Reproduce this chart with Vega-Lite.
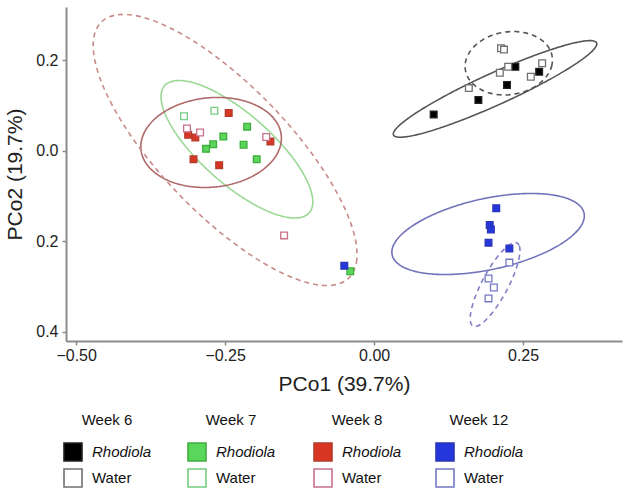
{
  "$schema": "https://vega.github.io/schema/vega-lite/v6.json",
  "width": 556,
  "height": 334,
  "autosize": {"type": "none"},
  "padding": {"left": 66, "top": 7, "right": 7, "bottom": 149},
  "background": "white",
  "config": {
    "view": {"stroke": null},
    "font": "Liberation Sans",
    "axis": {
      "grid": false,
      "domainColor": "#8c8c8c",
      "domainWidth": 2,
      "tickColor": "#8c8c8c",
      "tickWidth": 1.5,
      "tickSize": 4,
      "labelFontSize": 16,
      "labelColor": "#222222",
      "titleFontSize": 21,
      "titleFontWeight": "normal",
      "titleColor": "#222222"
    },
    "legend": {
      "titleFontSize": 15,
      "titleFontWeight": "normal",
      "titleColor": "#111111",
      "labelFontSize": 15,
      "labelColor": "#111111",
      "symbolSize": 324,
      "symbolStrokeWidth": 1.6,
      "labelOffset": 9,
      "rowPadding": 0,
      "titlePadding": 14,
      "titleAnchor": "middle",
      "symbolType": "square"
    }
  },
  "datasets": {
    "pts": [
      {"week": 6, "trt": "Rhodiola", "x": 0.237, "y": 0.185},
      {"week": 6, "trt": "Rhodiola", "x": 0.223, "y": 0.145},
      {"week": 6, "trt": "Rhodiola", "x": 0.175, "y": 0.112},
      {"week": 6, "trt": "Rhodiola", "x": 0.100, "y": 0.080},
      {"week": 6, "trt": "Rhodiola", "x": 0.277, "y": 0.174},
      {"week": 6, "trt": "Water", "x": 0.213, "y": 0.226},
      {"week": 6, "trt": "Water", "x": 0.218, "y": 0.223},
      {"week": 6, "trt": "Water", "x": 0.225, "y": 0.185},
      {"week": 6, "trt": "Water", "x": 0.211, "y": 0.172},
      {"week": 6, "trt": "Water", "x": 0.159, "y": 0.138},
      {"week": 6, "trt": "Water", "x": 0.263, "y": 0.163},
      {"week": 6, "trt": "Water", "x": 0.282, "y": 0.193},
      {"week": 7, "trt": "Rhodiola", "x": -0.213, "y": 0.053},
      {"week": 7, "trt": "Rhodiola", "x": -0.253, "y": 0.031},
      {"week": 7, "trt": "Rhodiola", "x": -0.270, "y": 0.014},
      {"week": 7, "trt": "Rhodiola", "x": -0.282, "y": 0.004},
      {"week": 7, "trt": "Rhodiola", "x": -0.219, "y": 0.013},
      {"week": 7, "trt": "Rhodiola", "x": -0.197, "y": -0.019},
      {"week": 7, "trt": "Rhodiola", "x": -0.040, "y": -0.266},
      {"week": 7, "trt": "Water", "x": -0.319, "y": 0.076},
      {"week": 7, "trt": "Water", "x": -0.268, "y": 0.088},
      {"week": 8, "trt": "Rhodiola", "x": -0.244, "y": 0.083},
      {"week": 8, "trt": "Rhodiola", "x": -0.312, "y": 0.035},
      {"week": 8, "trt": "Rhodiola", "x": -0.300, "y": 0.029},
      {"week": 8, "trt": "Rhodiola", "x": -0.174, "y": 0.020},
      {"week": 8, "trt": "Rhodiola", "x": -0.303, "y": -0.019},
      {"week": 8, "trt": "Rhodiola", "x": -0.260, "y": -0.032},
      {"week": 8, "trt": "Water", "x": -0.314, "y": 0.049},
      {"week": 8, "trt": "Water", "x": -0.292, "y": 0.040},
      {"week": 8, "trt": "Water", "x": -0.181, "y": 0.030},
      {"week": 8, "trt": "Water", "x": -0.151, "y": -0.187},
      {"week": 12, "trt": "Rhodiola", "x": 0.205, "y": -0.127},
      {"week": 12, "trt": "Rhodiola", "x": 0.194, "y": -0.164},
      {"week": 12, "trt": "Rhodiola", "x": 0.196, "y": -0.174},
      {"week": 12, "trt": "Rhodiola", "x": 0.192, "y": -0.203},
      {"week": 12, "trt": "Rhodiola", "x": 0.227, "y": -0.216},
      {"week": 12, "trt": "Rhodiola", "x": -0.050, "y": -0.254},
      {"week": 12, "trt": "Water", "x": 0.192, "y": -0.282},
      {"week": 12, "trt": "Water", "x": 0.201, "y": -0.302},
      {"week": 12, "trt": "Water", "x": 0.192, "y": -0.326},
      {"week": 12, "trt": "Water", "x": 0.227, "y": -0.247}
    ],
    "ell": [
      {"e": "6R", "t": "R", "i": 0, "x": 0.3734, "y": 0.2379},
      {"e": "6R", "t": "R", "i": 1, "x": 0.3704, "y": 0.2261},
      {"e": "6R", "t": "R", "i": 2, "x": 0.3561, "y": 0.2083},
      {"e": "6R", "t": "R", "i": 3, "x": 0.3313, "y": 0.1855},
      {"e": "6R", "t": "R", "i": 4, "x": 0.2977, "y": 0.1594},
      {"e": "6R", "t": "R", "i": 5, "x": 0.2577, "y": 0.1316},
      {"e": "6R", "t": "R", "i": 6, "x": 0.2140, "y": 0.1042},
      {"e": "6R", "t": "R", "i": 7, "x": 0.1695, "y": 0.0790},
      {"e": "6R", "t": "R", "i": 8, "x": 0.1273, "y": 0.0577},
      {"e": "6R", "t": "R", "i": 9, "x": 0.0903, "y": 0.0417},
      {"e": "6R", "t": "R", "i": 10, "x": 0.0610, "y": 0.0322},
      {"e": "6R", "t": "R", "i": 11, "x": 0.0413, "y": 0.0297},
      {"e": "6R", "t": "R", "i": 12, "x": 0.0326, "y": 0.0345},
      {"e": "6R", "t": "R", "i": 13, "x": 0.0356, "y": 0.0463},
      {"e": "6R", "t": "R", "i": 14, "x": 0.0499, "y": 0.0641},
      {"e": "6R", "t": "R", "i": 15, "x": 0.0747, "y": 0.0869},
      {"e": "6R", "t": "R", "i": 16, "x": 0.1083, "y": 0.1130},
      {"e": "6R", "t": "R", "i": 17, "x": 0.1483, "y": 0.1408},
      {"e": "6R", "t": "R", "i": 18, "x": 0.1920, "y": 0.1682},
      {"e": "6R", "t": "R", "i": 19, "x": 0.2365, "y": 0.1934},
      {"e": "6R", "t": "R", "i": 20, "x": 0.2787, "y": 0.2147},
      {"e": "6R", "t": "R", "i": 21, "x": 0.3157, "y": 0.2307},
      {"e": "6R", "t": "R", "i": 22, "x": 0.3450, "y": 0.2402},
      {"e": "6R", "t": "R", "i": 23, "x": 0.3647, "y": 0.2427},
      {"e": "6W", "t": "W", "i": 0, "x": 0.2989, "y": 0.2072},
      {"e": "6W", "t": "W", "i": 1, "x": 0.2984, "y": 0.1890},
      {"e": "6W", "t": "W", "i": 2, "x": 0.2930, "y": 0.1710},
      {"e": "6W", "t": "W", "i": 3, "x": 0.2830, "y": 0.1546},
      {"e": "6W", "t": "W", "i": 4, "x": 0.2692, "y": 0.1407},
      {"e": "6W", "t": "W", "i": 5, "x": 0.2524, "y": 0.1304},
      {"e": "6W", "t": "W", "i": 6, "x": 0.2338, "y": 0.1244},
      {"e": "6W", "t": "W", "i": 7, "x": 0.2147, "y": 0.1230},
      {"e": "6W", "t": "W", "i": 8, "x": 0.1963, "y": 0.1264},
      {"e": "6W", "t": "W", "i": 9, "x": 0.1800, "y": 0.1343},
      {"e": "6W", "t": "W", "i": 10, "x": 0.1668, "y": 0.1462},
      {"e": "6W", "t": "W", "i": 11, "x": 0.1576, "y": 0.1613},
      {"e": "6W", "t": "W", "i": 12, "x": 0.1531, "y": 0.1786},
      {"e": "6W", "t": "W", "i": 13, "x": 0.1536, "y": 0.1968},
      {"e": "6W", "t": "W", "i": 14, "x": 0.1590, "y": 0.2148},
      {"e": "6W", "t": "W", "i": 15, "x": 0.1690, "y": 0.2312},
      {"e": "6W", "t": "W", "i": 16, "x": 0.1828, "y": 0.2451},
      {"e": "6W", "t": "W", "i": 17, "x": 0.1996, "y": 0.2554},
      {"e": "6W", "t": "W", "i": 18, "x": 0.2182, "y": 0.2614},
      {"e": "6W", "t": "W", "i": 19, "x": 0.2373, "y": 0.2628},
      {"e": "6W", "t": "W", "i": 20, "x": 0.2557, "y": 0.2594},
      {"e": "6W", "t": "W", "i": 21, "x": 0.2720, "y": 0.2515},
      {"e": "6W", "t": "W", "i": 22, "x": 0.2852, "y": 0.2396},
      {"e": "6W", "t": "W", "i": 23, "x": 0.2944, "y": 0.2245},
      {"e": "7R", "t": "R", "i": 0, "x": -0.1089, "y": -0.1371},
      {"e": "7R", "t": "R", "i": 1, "x": -0.1030, "y": -0.1173},
      {"e": "7R", "t": "R", "i": 2, "x": -0.1058, "y": -0.0893},
      {"e": "7R", "t": "R", "i": 3, "x": -0.1170, "y": -0.0550},
      {"e": "7R", "t": "R", "i": 4, "x": -0.1360, "y": -0.0167},
      {"e": "7R", "t": "R", "i": 5, "x": -0.1614, "y": 0.0229},
      {"e": "7R", "t": "R", "i": 6, "x": -0.1914, "y": 0.0612},
      {"e": "7R", "t": "R", "i": 7, "x": -0.2241, "y": 0.0955},
      {"e": "7R", "t": "R", "i": 8, "x": -0.2573, "y": 0.1235},
      {"e": "7R", "t": "R", "i": 9, "x": -0.2885, "y": 0.1433},
      {"e": "7R", "t": "R", "i": 10, "x": -0.3158, "y": 0.1535},
      {"e": "7R", "t": "R", "i": 11, "x": -0.3373, "y": 0.1535},
      {"e": "7R", "t": "R", "i": 12, "x": -0.3515, "y": 0.1433},
      {"e": "7R", "t": "R", "i": 13, "x": -0.3574, "y": 0.1235},
      {"e": "7R", "t": "R", "i": 14, "x": -0.3546, "y": 0.0955},
      {"e": "7R", "t": "R", "i": 15, "x": -0.3434, "y": 0.0612},
      {"e": "7R", "t": "R", "i": 16, "x": -0.3244, "y": 0.0229},
      {"e": "7R", "t": "R", "i": 17, "x": -0.2990, "y": -0.0167},
      {"e": "7R", "t": "R", "i": 18, "x": -0.2690, "y": -0.0550},
      {"e": "7R", "t": "R", "i": 19, "x": -0.2363, "y": -0.0893},
      {"e": "7R", "t": "R", "i": 20, "x": -0.2031, "y": -0.1173},
      {"e": "7R", "t": "R", "i": 21, "x": -0.1719, "y": -0.1371},
      {"e": "7R", "t": "R", "i": 22, "x": -0.1446, "y": -0.1473},
      {"e": "7R", "t": "R", "i": 23, "x": -0.1231, "y": -0.1473},
      {"e": "8R", "t": "R", "i": 0, "x": -0.1558, "y": 0.0336},
      {"e": "8R", "t": "R", "i": 1, "x": -0.1579, "y": 0.0076},
      {"e": "8R", "t": "R", "i": 2, "x": -0.1678, "y": -0.0176},
      {"e": "8R", "t": "R", "i": 3, "x": -0.1850, "y": -0.0404},
      {"e": "8R", "t": "R", "i": 4, "x": -0.2082, "y": -0.0592},
      {"e": "8R", "t": "R", "i": 5, "x": -0.2358, "y": -0.0727},
      {"e": "8R", "t": "R", "i": 6, "x": -0.2660, "y": -0.0801},
      {"e": "8R", "t": "R", "i": 7, "x": -0.2968, "y": -0.0807},
      {"e": "8R", "t": "R", "i": 8, "x": -0.3259, "y": -0.0747},
      {"e": "8R", "t": "R", "i": 9, "x": -0.3515, "y": -0.0623},
      {"e": "8R", "t": "R", "i": 10, "x": -0.3717, "y": -0.0444},
      {"e": "8R", "t": "R", "i": 11, "x": -0.3853, "y": -0.0222},
      {"e": "8R", "t": "R", "i": 12, "x": -0.3912, "y": 0.0026},
      {"e": "8R", "t": "R", "i": 13, "x": -0.3891, "y": 0.0286},
      {"e": "8R", "t": "R", "i": 14, "x": -0.3792, "y": 0.0538},
      {"e": "8R", "t": "R", "i": 15, "x": -0.3620, "y": 0.0766},
      {"e": "8R", "t": "R", "i": 16, "x": -0.3388, "y": 0.0954},
      {"e": "8R", "t": "R", "i": 17, "x": -0.3112, "y": 0.1089},
      {"e": "8R", "t": "R", "i": 18, "x": -0.2810, "y": 0.1163},
      {"e": "8R", "t": "R", "i": 19, "x": -0.2502, "y": 0.1169},
      {"e": "8R", "t": "R", "i": 20, "x": -0.2211, "y": 0.1109},
      {"e": "8R", "t": "R", "i": 21, "x": -0.1955, "y": 0.0985},
      {"e": "8R", "t": "R", "i": 22, "x": -0.1753, "y": 0.0806},
      {"e": "8R", "t": "R", "i": 23, "x": -0.1617, "y": 0.0584},
      {"e": "8W", "t": "W", "i": 0, "x": -0.0425, "y": -0.2812},
      {"e": "8W", "t": "W", "i": 1, "x": -0.0296, "y": -0.2461},
      {"e": "8W", "t": "W", "i": 2, "x": -0.0317, "y": -0.1942},
      {"e": "8W", "t": "W", "i": 3, "x": -0.0487, "y": -0.1290},
      {"e": "8W", "t": "W", "i": 4, "x": -0.0794, "y": -0.0548},
      {"e": "8W", "t": "W", "i": 5, "x": -0.1217, "y": 0.0232},
      {"e": "8W", "t": "W", "i": 6, "x": -0.1727, "y": 0.0997},
      {"e": "8W", "t": "W", "i": 7, "x": -0.2291, "y": 0.1695},
      {"e": "8W", "t": "W", "i": 8, "x": -0.2868, "y": 0.2278},
      {"e": "8W", "t": "W", "i": 9, "x": -0.3421, "y": 0.2708},
      {"e": "8W", "t": "W", "i": 10, "x": -0.3911, "y": 0.2954},
      {"e": "8W", "t": "W", "i": 11, "x": -0.4304, "y": 0.2999},
      {"e": "8W", "t": "W", "i": 12, "x": -0.4575, "y": 0.2842},
      {"e": "8W", "t": "W", "i": 13, "x": -0.4704, "y": 0.2491},
      {"e": "8W", "t": "W", "i": 14, "x": -0.4683, "y": 0.1972},
      {"e": "8W", "t": "W", "i": 15, "x": -0.4513, "y": 0.1320},
      {"e": "8W", "t": "W", "i": 16, "x": -0.4206, "y": 0.0578},
      {"e": "8W", "t": "W", "i": 17, "x": -0.3783, "y": -0.0202},
      {"e": "8W", "t": "W", "i": 18, "x": -0.3273, "y": -0.0967},
      {"e": "8W", "t": "W", "i": 19, "x": -0.2709, "y": -0.1665},
      {"e": "8W", "t": "W", "i": 20, "x": -0.2132, "y": -0.2248},
      {"e": "8W", "t": "W", "i": 21, "x": -0.1579, "y": -0.2678},
      {"e": "8W", "t": "W", "i": 22, "x": -0.1089, "y": -0.2924},
      {"e": "8W", "t": "W", "i": 23, "x": -0.0696, "y": -0.2969},
      {"e": "12R", "t": "R", "i": 0, "x": 0.3523, "y": -0.1377},
      {"e": "12R", "t": "R", "i": 1, "x": 0.3501, "y": -0.1591},
      {"e": "12R", "t": "R", "i": 2, "x": 0.3370, "y": -0.1822},
      {"e": "12R", "t": "R", "i": 3, "x": 0.3141, "y": -0.2054},
      {"e": "12R", "t": "R", "i": 4, "x": 0.2828, "y": -0.2271},
      {"e": "12R", "t": "R", "i": 5, "x": 0.2452, "y": -0.2459},
      {"e": "12R", "t": "R", "i": 6, "x": 0.2040, "y": -0.2605},
      {"e": "12R", "t": "R", "i": 7, "x": 0.1619, "y": -0.2698},
      {"e": "12R", "t": "R", "i": 8, "x": 0.1218, "y": -0.2733},
      {"e": "12R", "t": "R", "i": 9, "x": 0.0864, "y": -0.2707},
      {"e": "12R", "t": "R", "i": 10, "x": 0.0582, "y": -0.2622},
      {"e": "12R", "t": "R", "i": 11, "x": 0.0391, "y": -0.2483},
      {"e": "12R", "t": "R", "i": 12, "x": 0.0303, "y": -0.2301},
      {"e": "12R", "t": "R", "i": 13, "x": 0.0325, "y": -0.2087},
      {"e": "12R", "t": "R", "i": 14, "x": 0.0456, "y": -0.1856},
      {"e": "12R", "t": "R", "i": 15, "x": 0.0685, "y": -0.1624},
      {"e": "12R", "t": "R", "i": 16, "x": 0.0998, "y": -0.1407},
      {"e": "12R", "t": "R", "i": 17, "x": 0.1374, "y": -0.1219},
      {"e": "12R", "t": "R", "i": 18, "x": 0.1786, "y": -0.1073},
      {"e": "12R", "t": "R", "i": 19, "x": 0.2207, "y": -0.0980},
      {"e": "12R", "t": "R", "i": 20, "x": 0.2608, "y": -0.0945},
      {"e": "12R", "t": "R", "i": 21, "x": 0.2962, "y": -0.0971},
      {"e": "12R", "t": "R", "i": 22, "x": 0.3244, "y": -0.1056},
      {"e": "12R", "t": "R", "i": 23, "x": 0.3435, "y": -0.1195},
      {"e": "12W", "t": "W", "i": 0, "x": 0.2400, "y": -0.2038},
      {"e": "12W", "t": "W", "i": 1, "x": 0.2438, "y": -0.2104},
      {"e": "12W", "t": "W", "i": 2, "x": 0.2447, "y": -0.2228},
      {"e": "12W", "t": "W", "i": 3, "x": 0.2428, "y": -0.2401},
      {"e": "12W", "t": "W", "i": 4, "x": 0.2382, "y": -0.2613},
      {"e": "12W", "t": "W", "i": 5, "x": 0.2312, "y": -0.2847},
      {"e": "12W", "t": "W", "i": 6, "x": 0.2223, "y": -0.3089},
      {"e": "12W", "t": "W", "i": 7, "x": 0.2120, "y": -0.3321},
      {"e": "12W", "t": "W", "i": 8, "x": 0.2012, "y": -0.3529},
      {"e": "12W", "t": "W", "i": 9, "x": 0.1904, "y": -0.3697},
      {"e": "12W", "t": "W", "i": 10, "x": 0.1806, "y": -0.3815},
      {"e": "12W", "t": "W", "i": 11, "x": 0.1722, "y": -0.3874},
      {"e": "12W", "t": "W", "i": 12, "x": 0.1660, "y": -0.3870},
      {"e": "12W", "t": "W", "i": 13, "x": 0.1622, "y": -0.3804},
      {"e": "12W", "t": "W", "i": 14, "x": 0.1613, "y": -0.3680},
      {"e": "12W", "t": "W", "i": 15, "x": 0.1632, "y": -0.3507},
      {"e": "12W", "t": "W", "i": 16, "x": 0.1678, "y": -0.3295},
      {"e": "12W", "t": "W", "i": 17, "x": 0.1748, "y": -0.3061},
      {"e": "12W", "t": "W", "i": 18, "x": 0.1837, "y": -0.2819},
      {"e": "12W", "t": "W", "i": 19, "x": 0.1940, "y": -0.2587},
      {"e": "12W", "t": "W", "i": 20, "x": 0.2048, "y": -0.2379},
      {"e": "12W", "t": "W", "i": 21, "x": 0.2156, "y": -0.2211},
      {"e": "12W", "t": "W", "i": 22, "x": 0.2254, "y": -0.2093},
      {"e": "12W", "t": "W", "i": 23, "x": 0.2338, "y": -0.2034}
    ]
  },
  "encoding": {
    "x": {
      "field": "x",
      "type": "quantitative",
      "scale": {"domain": [-0.517, 0.416], "nice": false, "zero": false},
      "axis": {
        "title": "PCo1 (39.7%)",
        "values": [-0.5, -0.25, 0, 0.25],
        "format": ".2f",
        "labelPadding": 2,
        "titlePadding": 10
      }
    },
    "y": {
      "field": "y",
      "type": "quantitative",
      "scale": {"domain": [-0.42, 0.317], "nice": false, "zero": false},
      "axis": {
        "title": "PCo2 (19.7%)",
        "values": [-0.4, -0.2, 0, 0.2],
        "labelExpr": "format(abs(datum.value), '.1f')",
        "labelPadding": 4,
        "titlePadding": 10
      }
    }
  },
  "layer": [
    {
      "data": {"name": "ell"},
      "mark": {"type": "line", "interpolate": "cardinal-closed", "strokeWidth": 1.6},
      "encoding": {
        "detail": {"field": "e", "type": "nominal"},
        "order": {"field": "i", "type": "quantitative"},
        "stroke": {
          "field": "e",
          "type": "nominal",
          "scale": {
            "domain": ["6R", "6W", "7R", "8R", "8W", "12R", "12W"],
            "range": ["#555555", "#555555", "#99d993", "#b06a6a", "#c98a8a", "#7272bb", "#8080c6"]
          },
          "legend": null
        },
        "strokeDash": {
          "field": "t",
          "type": "nominal",
          "scale": {"domain": ["R", "W"], "range": [[1, 0], [5, 4]]},
          "legend": null
        }
      }
    },
    {
      "data": {"name": "pts"},
      "transform": [{"filter": "datum.week == 6"}],
      "mark": {"type": "square", "size": 45, "opacity": 1, "strokeWidth": 1.3},
      "encoding": {
        "fill": {
          "field": "trt", "type": "nominal",
          "scale": {"domain": ["Rhodiola", "Water"], "range": ["#000000", "#ffffff"]},
          "legend": {"title": "Week 6", "orient": "none", "legendX": -3, "legendY": 406, "labelFontStyle": {"expr": "datum.label == 'Rhodiola' ? 'italic' : 'normal'"}}
        },
        "stroke": {
          "field": "trt", "type": "nominal",
          "scale": {"domain": ["Rhodiola", "Water"], "range": ["#222222", "#707070"]},
          "legend": {"title": "Week 6", "orient": "none", "legendX": -3, "legendY": 406, "labelFontStyle": {"expr": "datum.label == 'Rhodiola' ? 'italic' : 'normal'"}}
        }
      }
    },
    {
      "data": {"name": "pts"},
      "transform": [{"filter": "datum.week == 7"}],
      "mark": {"type": "square", "size": 45, "opacity": 1, "strokeWidth": 1.3},
      "encoding": {
        "fill": {
          "field": "trt", "type": "nominal",
          "scale": {"domain": ["Rhodiola", "Water"], "range": ["#5ad65a", "#ffffff"]},
          "legend": {"title": "Week 7", "orient": "none", "legendX": 121, "legendY": 406, "labelFontStyle": {"expr": "datum.label == 'Rhodiola' ? 'italic' : 'normal'"}}
        },
        "stroke": {
          "field": "trt", "type": "nominal",
          "scale": {"domain": ["Rhodiola", "Water"], "range": ["#3fae3f", "#76cc80"]},
          "legend": {"title": "Week 7", "orient": "none", "legendX": 121, "legendY": 406, "labelFontStyle": {"expr": "datum.label == 'Rhodiola' ? 'italic' : 'normal'"}}
        }
      }
    },
    {
      "data": {"name": "pts"},
      "transform": [{"filter": "datum.week == 8"}],
      "mark": {"type": "square", "size": 45, "opacity": 1, "strokeWidth": 1.3},
      "encoding": {
        "fill": {
          "field": "trt", "type": "nominal",
          "scale": {"domain": ["Rhodiola", "Water"], "range": ["#d83522", "#ffffff"]},
          "legend": {"title": "Week 8", "orient": "none", "legendX": 247, "legendY": 406, "labelFontStyle": {"expr": "datum.label == 'Rhodiola' ? 'italic' : 'normal'"}}
        },
        "stroke": {
          "field": "trt", "type": "nominal",
          "scale": {"domain": ["Rhodiola", "Water"], "range": ["#b33d2c", "#c8708a"]},
          "legend": {"title": "Week 8", "orient": "none", "legendX": 247, "legendY": 406, "labelFontStyle": {"expr": "datum.label == 'Rhodiola' ? 'italic' : 'normal'"}}
        }
      }
    },
    {
      "data": {"name": "pts"},
      "transform": [{"filter": "datum.week == 12"}],
      "mark": {"type": "square", "size": 45, "opacity": 1, "strokeWidth": 1.3},
      "encoding": {
        "fill": {
          "field": "trt", "type": "nominal",
          "scale": {"domain": ["Rhodiola", "Water"], "range": ["#2436dc", "#ffffff"]},
          "legend": {"title": "Week 12", "orient": "none", "legendX": 369, "legendY": 406, "labelFontStyle": {"expr": "datum.label == 'Rhodiola' ? 'italic' : 'normal'"}}
        },
        "stroke": {
          "field": "trt", "type": "nominal",
          "scale": {"domain": ["Rhodiola", "Water"], "range": ["#2b36b8", "#7378c4"]},
          "legend": {"title": "Week 12", "orient": "none", "legendX": 369, "legendY": 406, "labelFontStyle": {"expr": "datum.label == 'Rhodiola' ? 'italic' : 'normal'"}}
        }
      }
    }
  ],
  "resolve": {
    "scale": {"fill": "independent", "stroke": "independent", "strokeDash": "independent"},
    "legend": {"fill": "independent", "stroke": "independent"}
  }
}
